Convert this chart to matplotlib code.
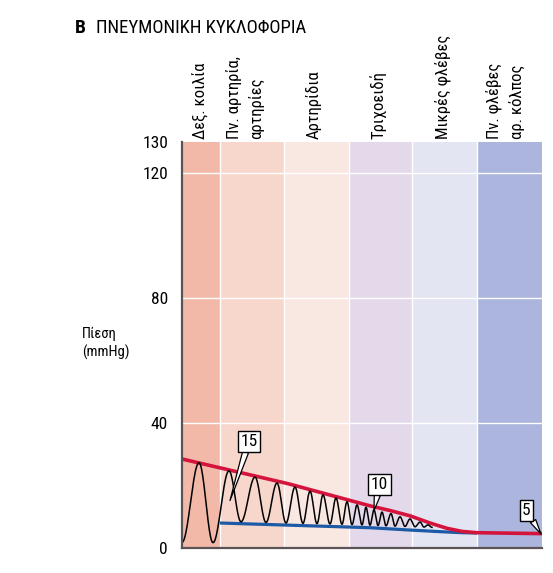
import numpy as np
import matplotlib
matplotlib.use("Agg")
import matplotlib.pyplot as plt
from matplotlib import font_manager

names = {f.name for f in font_manager.fontManager.ttflist}
COND = None
for cand in ["Liberation Sans Narrow", "Roboto Condensed", "Open Sans Condensed", "Liberation Sans"]:
    if cand in names:
        COND = cand
        break
FAM = [COND, "DejaVu Sans"]
plt.rcParams['font.family'] = FAM

# ---------------- data ----------------
title_letter = "B"
title_text = "ΠΝΕΥΜΟΝΙΚΗ ΚΥΚΛΟΦΟΡΙΑ"
y_label = "Πίεση\n(mmHg)"
categories = ["Δεξ. κοιλία", "Πν. αρτηρία,\nαρτηρίες", "Αρτηρίδια",
              "Τριχοειδή", "Μικρές φλέβες", "Πν. φλέβες\nαρ. κόλπος"]
segment_edges = [0, 38, 102, 167, 230, 295, 360]
segment_colors = ["#f2b9a8", "#f7d7cc", "#f9e7e1", "#e4d9ea", "#e4e5f3", "#abb5dd"]
label_x = [18, 63, 132, 196, 261, 323]
y_ticks = [0, 40, 80, 120, 130]

# systolic envelope (red)
sys_x = [0, 106, 188, 208, 228, 248, 265, 280, 295, 360]
sys_y = [28.5, 20.6, 13.5, 12.0, 10.3, 8.0, 6.3, 5.3, 4.9, 4.6]
# diastolic envelope (blue)
dia_x = [38, 188, 225, 260, 280, 295]
dia_y = [8.0, 6.5, 5.8, 5.2, 4.9, 4.8]
# pressure wave extrema (black)
wave_x = [0, 17, 31, 47, 59, 73, 84, 95, 104, 113, 121, 128, 135, 141, 148,
          154, 160, 165, 170, 175, 180, 184, 188, 192, 196, 200, 204, 209,
          213, 218, 223, 228, 233, 238, 242, 246, 250]
wave_y = [1.8, 27.3, 1.7, 24.7, 8.4, 22.7, 8.2, 20.8, 8.0, 19.5, 7.9, 18.2, 7.8,
          17.0, 7.7, 16.0, 7.6, 14.8, 7.5, 13.8, 7.4, 13.0, 7.3, 12.2, 7.2,
          11.5, 7.1, 11.0, 7.0, 10.0, 6.9, 9.3, 6.8, 8.3, 6.7, 7.4, 6.6]
# callouts: text, box center, tip
callout_text = ["15", "10", "5"]
callout_box = [(67, 34.1), (197.5, 20.3), (344.5, 12.0)]
callout_tip = [(48, 15.2), (192, 12.0), (359, 4.5)]

# ---------------- figure ----------------
W, H = 553, 573
fig = plt.figure(figsize=(W / 100, H / 100), dpi=100)
ax = fig.add_axes([182 / W, 1 - 548 / H, 360 / W, 406 / H])
ax.set_xlim(segment_edges[0], segment_edges[-1])
ax.set_ylim(0, 130)

for i in range(len(categories)):
    ax.axvspan(segment_edges[i], segment_edges[i + 1], color=segment_colors[i], lw=0, zorder=0)
for e in segment_edges[1:-1]:
    ax.axvline(e, color="white", lw=1.0, zorder=1)
for t in y_ticks[1:-1]:
    ax.axhline(t, color="white", lw=1.0, zorder=1)

# wave with cosine shape between extrema
wx, wy = [], []
for i in range(len(wave_x) - 1):
    t = np.linspace(0, 1, 24)
    x0, x1 = wave_x[i], wave_x[i + 1]
    y0, y1 = wave_y[i], wave_y[i + 1]
    wx.extend(x0 + (x1 - x0) * t)
    wy.extend(y0 + (y1 - y0) * (1 - np.cos(np.pi * t)) / 2)

ax.plot(dia_x, dia_y, color="#1c5aa6", lw=2.3, zorder=3, solid_capstyle="butt",
        solid_joinstyle="round")
ax.plot(sys_x, sys_y, color="#d4143c", lw=2.6, zorder=3, solid_capstyle="butt",
        solid_joinstyle="round")
ax.plot(wx, wy, color="black", lw=1.1, zorder=4)

for txt, (bx, by), (tx, ty) in zip(callout_text, callout_box, callout_tip):
    ax.annotate(txt, xy=(tx, ty), xytext=(bx, by), ha="center", va="center",
                fontsize=12.5, zorder=6,
                bbox=dict(boxstyle="square,pad=0.15", fc="white", ec="black", lw=1),
                arrowprops=dict(arrowstyle="wedge,tail_width=0.35", fc="white",
                                ec="black", lw=0.9, shrinkA=0, shrinkB=0))

# spines and ticks
for s in ["top", "right"]:
    ax.spines[s].set_visible(False)
for s in ["left", "bottom"]:
    ax.spines[s].set_color("#5b5355")
    ax.spines[s].set_linewidth(1.6)
    ax.spines[s].set_zorder(5)
ax.set_xticks([])
ax.set_yticks(y_ticks)
ax.set_yticklabels([str(t) for t in y_ticks], fontsize=12.5)
ax.tick_params(axis="y", length=0, pad=10)

# column labels
for lx, lab in zip(label_x, categories):
    ax.text(lx, 1.008, lab, transform=ax.get_xaxis_transform(), rotation=90,
            ha="center", va="bottom", multialignment="left", fontsize=12,
            linespacing=1.5)

# title
fig.text(75 / W, 1 - 28 / H, title_letter, fontsize=14, fontweight="bold",
         va="center", ha="left")
fig.text(96 / W, 1 - 28 / H, title_text, fontsize=13.5, va="center", ha="left")

# y label
fig.text(82 / W, 1 - 343 / H, y_label, fontsize=10.5, va="center", ha="left",
         linespacing=1.3)

fig.savefig("out.png", dpi=100)
